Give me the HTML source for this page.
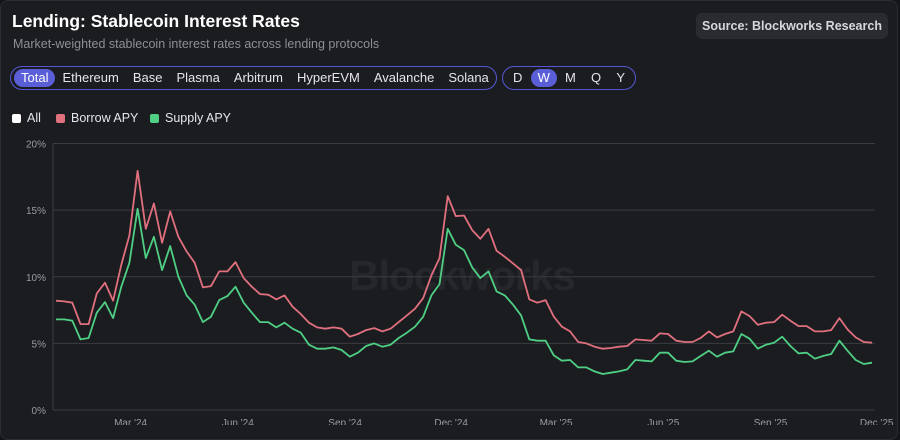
<!DOCTYPE html>
<html><head><meta charset="utf-8"><style>
*{box-sizing:border-box;margin:0;padding:0}
html,body{width:900px;height:425px;overflow:hidden;background:#141518}
body{font-family:"Liberation Sans",sans-serif;color:#fff}
.card{position:absolute;left:0;top:0;width:898px;height:440px;background:#1b1c20;border:1px solid #2c2d31;border-radius:8px}
.title{position:absolute;left:12px;top:11px;font-size:17.5px;font-weight:bold;color:#fff}
.sub{position:absolute;left:13px;top:37px;font-size:12.5px;color:#8e8f96}
.src{position:absolute;left:696px;top:13px;width:192px;height:26px;background:#2a2b30;border-radius:6px;font-size:12.5px;font-weight:bold;color:#d6d7db;text-align:center;line-height:26px}
.pill{position:absolute;top:66px;height:24px;border:1px solid #5558d6;border-radius:12px;display:flex;align-items:center;padding:0 3px}
.tab{font-size:13px;color:#e6e6ea;padding:0 7px;height:18px;line-height:18px;border-radius:9px}
.tab.on{background:#5a5fd8;color:#fff}
.leg{position:absolute;top:111px;font-size:12.5px;color:#e6e6ea;display:flex;align-items:center}
.leg i{display:inline-block;width:9px;height:9px;border-radius:2px;margin-right:6px}
</style></head><body>
<div class="card"></div>
<div class="title">Lending: Stablecoin Interest Rates</div>
<div class="sub">Market-weighted stablecoin interest rates across lending protocols</div>
<div class="src">Source: Blockworks Research</div>
<div class="pill" style="left:10px;width:487px;justify-content:space-between">
<span class="tab on">Total</span>
<span class="tab">Ethereum</span>
<span class="tab">Base</span>
<span class="tab">Plasma</span>
<span class="tab">Arbitrum</span>
<span class="tab">HyperEVM</span>
<span class="tab">Avalanche</span>
<span class="tab">Solana</span>
</div>
<div class="pill" style="left:502px;width:134px;justify-content:space-between">
<span class="tab">D</span>
<span class="tab on">W</span>
<span class="tab">M</span>
<span class="tab">Q</span>
<span class="tab">Y</span>
</div>
<div class="leg" style="left:12px"><i style="background:#fff"></i>All</div>
<div class="leg" style="left:56px"><i style="background:#e0707e"></i>Borrow APY</div>
<div class="leg" style="left:150px"><i style="background:#4fcf84"></i>Supply APY</div>
<svg id="chart" width="900" height="425" style="position:absolute;left:0;top:0"></svg>
<script>
const borrow=[8.2,8.15,8.05,6.45,6.45,8.75,9.55,8.2,10.9,13.1,17.95,13.6,15.5,12.55,14.9,13.0,11.9,11.05,9.2,9.3,10.4,10.4,11.1,9.9,9.25,8.7,8.65,8.3,8.6,7.75,7.2,6.55,6.2,6.1,6.2,6.1,5.5,5.7,6.0,6.15,5.9,6.1,6.6,7.1,7.6,8.4,10.1,11.4,16.05,
14.55,14.6,13.5,12.85,13.6,11.95,11.5,11.0,10.5,8.3,8.05,8.25,7.0,6.25,5.9,5.1,5.0,4.75,4.6,4.65,4.75,4.8,5.3,5.25,5.2,5.75,5.7,5.2,5.1,5.1,5.4,5.9,5.45,5.7,5.9,7.4,7.05,6.4,6.55,6.6,7.15,6.7,6.3,6.3,5.9,5.9,6.0,6.9,6.05,5.45,5.1,5.05];
const supply=[6.8,6.8,6.7,5.3,5.4,7.3,8.1,6.9,9.25,11.05,15.1,11.4,13.0,10.5,12.3,10.0,8.6,7.9,6.6,7.0,8.25,8.55,9.25,8.05,7.3,6.6,6.6,6.2,6.55,6.1,5.8,4.9,4.6,4.6,4.7,4.5,4.0,4.3,4.8,5.0,4.75,4.9,5.4,5.8,6.25,7.0,8.6,9.45,13.6,
12.4,12.0,10.7,9.9,10.4,8.9,8.6,7.9,7.1,5.3,5.2,5.2,4.1,3.7,3.75,3.2,3.2,2.9,2.7,2.8,2.9,3.05,3.75,3.7,3.65,4.3,4.3,3.7,3.6,3.65,4.05,4.45,4.0,4.3,4.4,5.7,5.35,4.6,4.9,5.05,5.5,4.8,4.25,4.3,3.85,4.05,4.2,5.2,4.45,3.75,3.45,3.55];
const startDate="2023-12-28";
const yTicks=[0,5,10,15,20];
const xTickDates=["2024-03-01","2024-06-01","2024-09-01","2024-12-01","2025-03-01","2025-06-01","2025-09-01","2025-12-01"];
const xTickLabels=["Mar '24","Jun '24","Sep '24","Dec '24","Mar '25","Jun '25","Sep '25","Dec '25"];

const svg=document.getElementById('chart');const NS='http://www.w3.org/2000/svg';
const L=53,R=875,T=143.5,B=410,X0=56,X1=872;
const n=borrow.length;
const x=i=>X0+(X1-X0)*i/(n-1);
const y=v=>B-(B-T)*v/20;
const dayMs=864e5,s0=new Date(startDate).getTime();
const xd=d=>x((new Date(d).getTime()-s0)/dayMs/7);
function mk(t,a){const e=document.createElementNS(NS,t);for(const k in a)e.setAttribute(k,a[k]);svg.appendChild(e);return e;}
const wm=mk('text',{x:462,y:290,'text-anchor':'middle','font-size':42,'font-weight':'bold',fill:'#26272b','font-family':'Liberation Sans, sans-serif','letter-spacing':'-1'});
wm.textContent='Blockworks';


yTicks.forEach(v=>{
 const g=mk('line',{x1:L,x2:R,y1:y(v),y2:y(v),stroke:'#3a3b40','stroke-width':1});
 
 
 const t=mk('text',{x:46,y:y(v)+4,'text-anchor':'end','font-size':10,fill:'#9a9ba1','font-family':'Liberation Sans, sans-serif'});
 t.textContent=v+'%';
 
 
});
mk('line',{x1:L,x2:L,y1:T,y2:B,stroke:'#3a3b40'});
xTickDates.forEach((d,i)=>{
 const t=mk('text',{x:xd(d),y:426,'text-anchor':'middle','font-size':10,fill:'#9a9ba1','font-family':'Liberation Sans, sans-serif'});
 t.textContent=xTickLabels[i];
 
 
});
function line(data,color,name){
 const p=mk('path',{d:data.map((v,i)=>(i?'L':'M')+x(i).toFixed(1)+','+y(v).toFixed(1)).join(''),fill:'none',stroke:color,'stroke-width':1.8,'stroke-linejoin':'round'});
 
 
}
line(supply,'#4fcf84','supply-apy-line');
line(borrow,'#e0707e','borrow-apy-line');
</script>
</body></html>
